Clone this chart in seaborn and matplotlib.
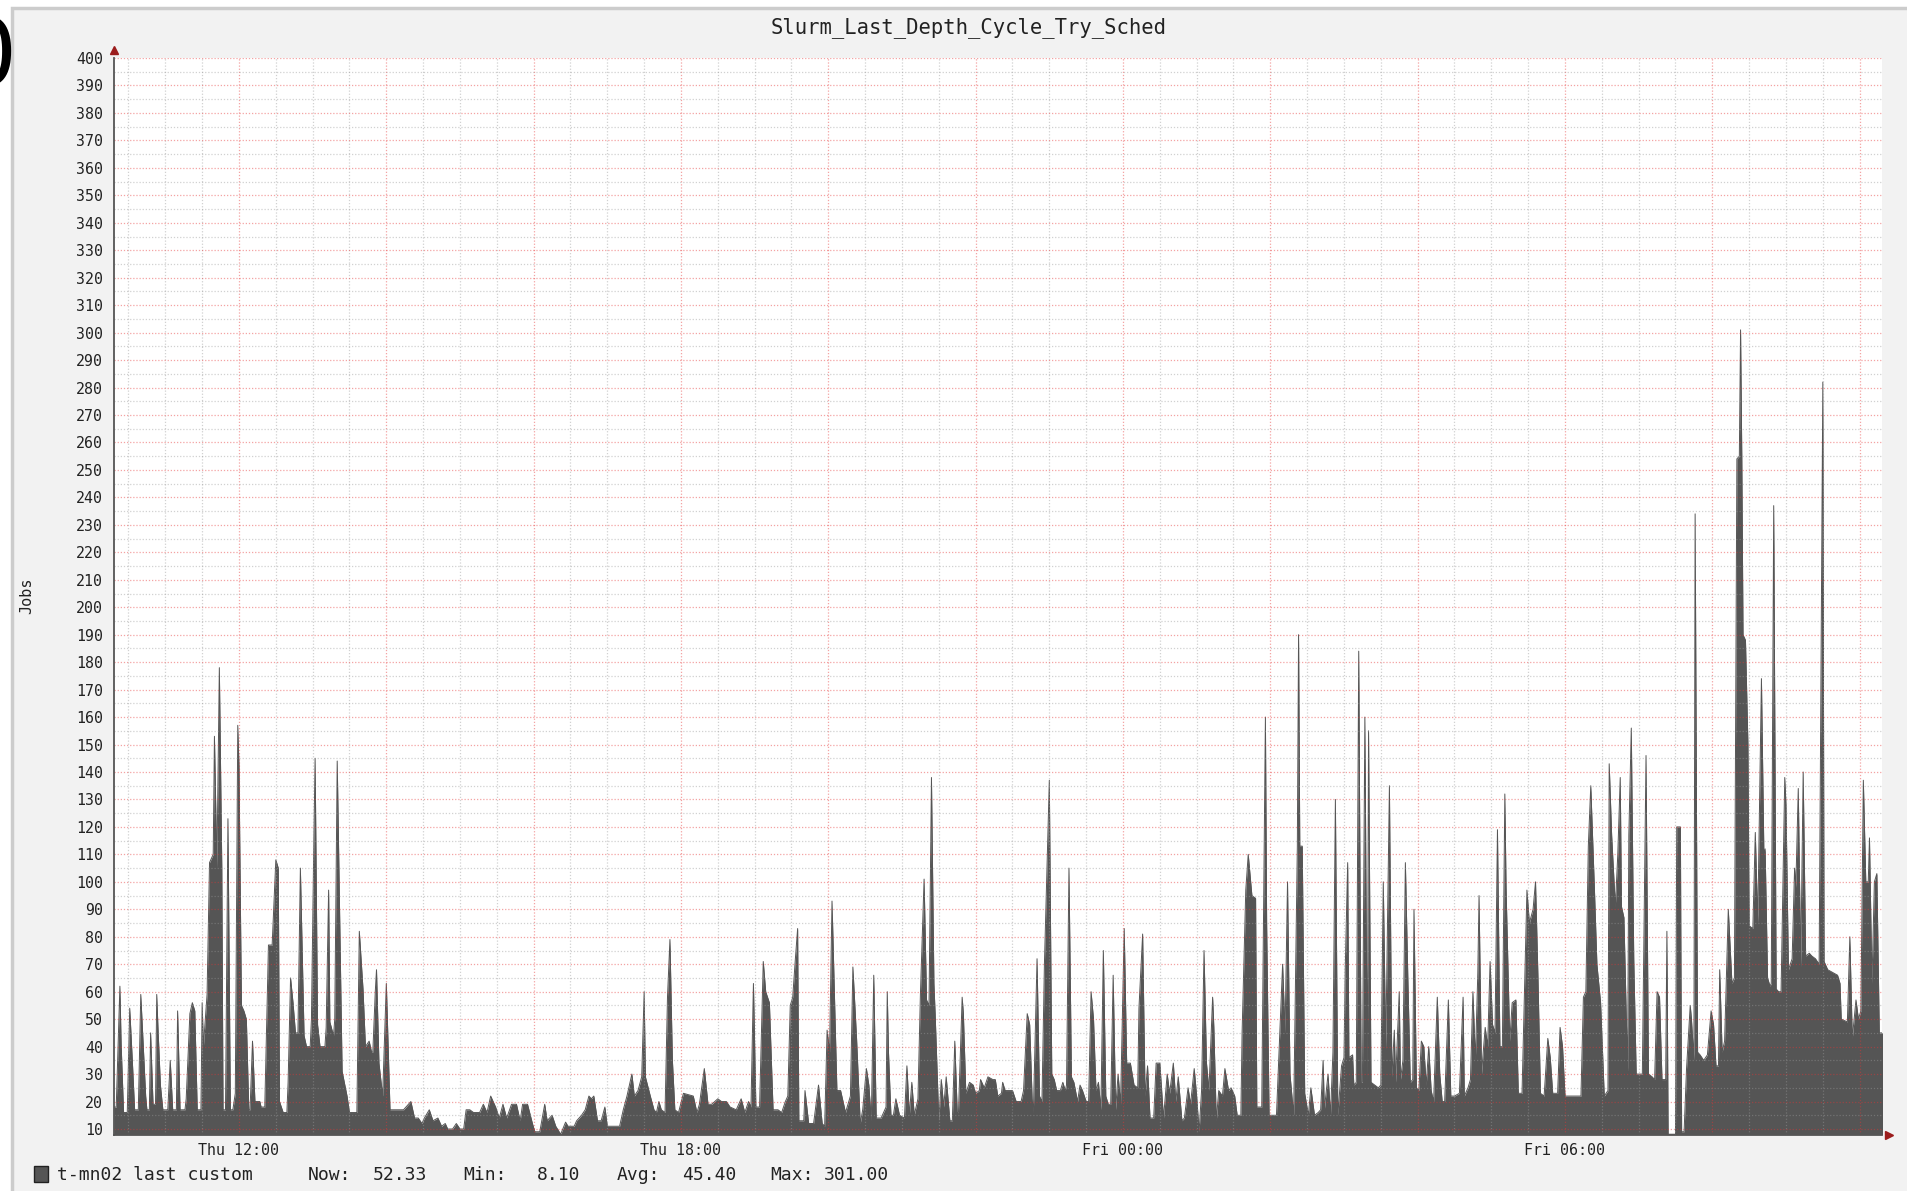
import pandas as pd
import numpy as np
import seaborn as sns
import matplotlib
matplotlib.use('Agg')
import matplotlib.pyplot as plt
import matplotlib.dates as mdates
from matplotlib.ticker import MultipleLocator, FuncFormatter
from matplotlib.patches import Rectangle

# values: minutes since Thu 00:00 -> jobs
thu_midday_min = [618, 620, 623, 624, 626, 629, 631, 633, 635, 638, 640, 644, 645, 647, 648, 650, 652, 653,
                  654, 656, 658, 662, 664, 666, 669, 670, 672, 676, 677, 680, 682, 684, 686, 689, 690, 691,
                  694, 696, 699, 700, 702, 704, 706, 707, 709, 711, 713, 715, 717, 719, 720, 722, 724, 726,
                  728, 729, 731, 733, 737, 738, 741, 744, 747, 750, 752, 753, 756, 759, 760, 762, 764, 766,
                  768, 770, 773, 775, 778, 779, 781, 782, 784, 786, 790, 791, 793, 794, 797, 798, 800, 804,
                  808, 810, 816, 818, 821, 823, 826, 828, 829, 831, 832, 834, 837, 840, 843, 851, 854, 860,
                  863, 866, 869, 871, 875, 878, 882, 885, 888, 890, 894, 897, 900, 903, 905, 908, 911, 916]
thu_midday_jobs = [18, 18, 62, 41, 16, 16, 54, 36, 17, 17, 59, 22, 17, 17, 45, 19, 19, 59,
                   47, 26, 17, 17, 35, 17, 17, 53, 17, 17, 21, 52, 56, 53, 17, 17, 56, 40,
                   59, 107, 110, 153, 105, 178, 105, 17, 17, 123, 17, 17, 23, 157, 142, 55, 53, 50,
                   17, 17, 42, 20, 20, 18, 18, 77, 77, 108, 105, 20, 16, 16, 27, 65, 56, 45,
                   45, 105, 44, 40, 40, 50, 116, 145, 48, 40, 40, 47, 97, 49, 44, 50, 144, 31,
                   22, 16, 16, 82, 61, 40, 42, 38, 38, 60, 68, 34, 22, 63, 17, 17, 17, 20,
                   14, 14, 12, 14, 17, 13, 14, 11, 12, 10, 10, 12, 10, 10, 17, 17, 16, 16]

thu_evening_min = [919, 922, 925, 929, 932, 935, 938, 942, 946, 949, 951, 955, 959, 961, 965, 969, 971, 975,
                   978, 982, 986, 988, 993, 995, 999, 1002, 1005, 1007, 1009, 1012, 1015, 1018, 1020, 1028,
                   1030, 1033, 1036, 1039, 1040, 1042, 1045, 1048, 1050, 1051, 1055, 1058, 1060, 1062, 1064,
                   1067, 1069, 1071, 1073, 1075, 1078, 1082, 1090, 1093, 1095, 1099, 1102, 1105, 1110, 1113,
                   1117, 1120, 1125, 1129, 1132, 1135, 1137, 1139, 1141, 1144, 1147, 1149, 1152, 1155, 1159,
                   1162, 1165, 1167, 1169, 1171, 1173, 1175, 1176, 1180, 1181, 1184, 1188, 1192, 1195, 1197,
                   1199, 1201, 1203, 1207, 1210, 1214, 1218, 1220, 1223, 1226, 1228, 1231, 1233, 1235, 1237,
                   1239, 1243, 1247]
thu_evening_jobs = [19, 16, 22, 18, 14, 19, 14, 19, 19, 13, 19, 19, 12, 9, 9, 19, 13, 15,
                    11, 8.1, 12.5, 11, 11, 13, 15, 17, 22, 21, 22, 13, 13, 18, 11, 11,
                    11, 17, 22, 28, 30, 22, 24, 29, 60, 29, 22, 17, 16, 20, 17,
                    16, 58, 79, 35, 17, 16, 23, 22, 16, 19, 32, 19, 19, 21, 20,
                    20, 18, 17, 21, 16, 20, 18, 63, 18, 18, 71, 60, 56, 17, 17,
                    16, 20, 22, 55, 58, 71, 83, 13, 13, 24, 12, 12, 26, 12, 11,
                    46, 38, 93, 24, 24, 16, 22, 69, 43, 12, 17, 32, 26, 13, 66,
                    14, 14, 18]

thu_night_min = [1248, 1249, 1251, 1253, 1255, 1258, 1262, 1264, 1266, 1268, 1270, 1273, 1275, 1278, 1280,
                 1282, 1284, 1286, 1287, 1290, 1292, 1294, 1296, 1299, 1301, 1303, 1305, 1306, 1309, 1310,
                 1312, 1315, 1318, 1320, 1323, 1324, 1327, 1330, 1334, 1336, 1338, 1341, 1342, 1344, 1348,
                 1350, 1353, 1357, 1359, 1362, 1364, 1366, 1367, 1370, 1372, 1374, 1376, 1380, 1382, 1384,
                 1386, 1389, 1391, 1393, 1394, 1396, 1398, 1400, 1403, 1405, 1407, 1410, 1412, 1414, 1416,
                 1418, 1420, 1422, 1424, 1426, 1428, 1430, 1432, 1434, 1436, 1438, 1441, 1443, 1446, 1449,
                 1452, 1453, 1456, 1458, 1460, 1462, 1465, 1467, 1470, 1473, 1476, 1478, 1481, 1483, 1485,
                 1488, 1490, 1493, 1495, 1498, 1500, 1502, 1504, 1506, 1508, 1510, 1513, 1514, 1516, 1518,
                 1521, 1523, 1526, 1528, 1531, 1533, 1536, 1537, 1540, 1542, 1545, 1548, 1549, 1553, 1556,
                 1557, 1559, 1563, 1565, 1567, 1570, 1572, 1574, 1576, 1579]
thu_night_jobs = [60, 38, 15, 15, 21, 15, 14, 33, 15, 27, 15, 21, 59, 101, 57,
                  55, 138, 63, 52, 13, 28, 18, 29, 13, 13, 42, 16, 16, 58, 52,
                  23, 27, 26, 23, 24, 28, 25, 29, 28, 28, 22, 23, 27, 24, 24,
                  24, 20, 20, 24, 52, 48, 21, 16, 72, 22, 20, 70, 137, 30, 28,
                  24, 24, 27, 24, 26, 105, 29, 27, 20, 26, 24, 20, 20, 60, 50,
                  24, 27, 17, 75, 22, 19, 19, 66, 17, 30, 19, 83, 34, 34, 26,
                  25, 54, 81, 22, 33, 14, 14, 34, 34, 14, 30, 23, 34, 20, 29,
                  13, 14, 25, 19, 32, 22, 9, 24, 75, 34, 24, 58, 47, 13, 24,
                  22, 32, 24, 25, 22, 15, 15, 45, 97, 110, 95, 94, 18, 18, 160,
                  85, 15, 15, 15, 37, 70, 45, 100, 30, 15]

fri_early_min = [1582, 1583, 1584, 1586, 1588, 1591, 1593, 1596, 1599, 1601, 1603, 1604, 1607, 1609, 1611,
                 1613, 1615, 1618, 1620, 1621, 1623, 1624, 1627, 1628, 1630, 1632, 1634, 1635, 1637, 1639,
                 1640, 1642, 1645, 1648, 1650, 1652, 1654, 1657, 1659, 1661, 1662, 1665, 1666, 1668, 1670,
                 1672, 1674, 1676, 1677, 1679, 1681, 1683, 1685, 1687, 1689, 1691, 1693, 1696, 1698, 1700,
                 1702, 1705, 1707, 1710, 1714, 1717, 1718, 1721, 1723, 1725, 1727, 1729, 1730, 1732, 1735,
                 1737, 1739, 1741, 1743, 1745, 1747, 1749, 1751, 1752, 1755, 1757, 1760, 1762, 1765, 1769,
                 1771, 1774, 1776, 1778, 1780, 1783, 1786, 1788, 1790, 1794, 1796, 1798, 1800, 1803, 1813,
                 1815, 1817, 1819, 1821, 1824, 1826, 1829, 1832]
fri_early_jobs = [113, 190, 113, 113, 23, 15, 25, 15, 16, 17, 35, 17, 30, 15, 38,
                  130, 15, 33, 36, 68, 107, 36, 37, 26, 27, 184, 27, 27, 160, 27,
                  155, 27, 26, 25, 26, 100, 39, 135, 29, 46, 27, 60, 28, 35, 107,
                  65, 27, 28, 90, 25, 24, 42, 40, 26, 40, 24, 20, 58, 30, 20,
                  20, 57, 22, 22, 23, 58, 22, 25, 28, 60, 35, 67, 95, 30, 47,
                  40, 71, 48, 45, 119, 40, 40, 132, 98, 42, 56, 57, 23, 23, 97,
                  85, 90, 100, 65, 23, 22, 43, 36, 23, 23, 47, 40, 22, 22, 22,
                  58, 60, 113, 135, 97, 70, 56, 22]

fri_morning_min = [1835, 1836, 1838, 1841, 1843, 1845, 1846, 1848, 1851, 1852, 1854, 1856, 1858, 1860, 1863,
                   1866, 1868, 1871, 1873, 1875, 1877, 1879, 1882, 1883, 1884, 1890, 1891, 1894, 1895, 1897,
                   1899, 1902, 1903, 1905, 1906, 1908, 1910, 1913, 1916, 1919, 1921, 1923, 1925, 1926, 1928,
                   1930, 1933, 1936, 1938, 1940, 1942, 1943, 1944, 1945, 1947, 1949, 1950, 1953, 1955, 1957,
                   1960, 1962, 1963, 1965, 1967, 1968, 1970, 1972, 1974, 1976, 1979, 1980, 1982, 1985, 1987,
                   1988, 1990, 1992, 1994, 1996, 1999, 2001, 2004, 2007, 2010, 2011, 2014, 2018, 2022, 2024,
                   2025, 2030, 2032, 2034, 2037, 2039, 2041, 2043, 2045, 2047, 2048, 2050, 2052, 2054, 2056,
                   2059]
fri_morning_jobs = [24, 143, 117, 91, 110, 138, 91, 87, 31, 117, 156, 72, 30, 30, 30,
                    146, 30, 29, 28, 60, 58, 28, 28, 82, 8.1, 8.1, 120, 120, 9, 9,
                    32, 55, 50, 35, 234, 38, 37, 35, 37, 53, 48, 33, 33, 68, 38,
                    42, 90, 63, 65, 254, 255, 301, 255, 190, 188, 150, 84, 83, 118, 85,
                    174, 110, 112, 65, 62, 63, 237, 61, 60, 60, 138, 128, 68, 72, 105,
                    98, 134, 69, 140, 73, 74, 73, 72, 70, 282, 71, 68, 67, 66, 63,
                    50, 49, 80, 43, 57, 50, 53, 137, 100, 100, 116, 63, 100, 103, 45,
                    45]

legend_item = 't-mn02 last custom'
legend_stats = [('Now:', '52.33'), ('Min:', '8.10'), ('Avg:', '45.40'), ('Max:', '301.00')]

minutes = thu_midday_min + thu_evening_min + thu_night_min + fri_early_min + fri_morning_min
jobs = thu_midday_jobs + thu_evening_jobs + thu_night_jobs + fri_early_jobs + fri_morning_jobs

base = pd.Timestamp('2024-01-04')  # a Thursday
df = pd.DataFrame({'time': base + pd.to_timedelta(minutes, unit='min'), 'jobs': jobs})

sns.set_style('white')
plt.rcParams['font.family'] = ['DejaVu Sans Mono']

W, H = 1908, 1191
fig = plt.figure(figsize=(W / 100, H / 100), dpi=100, facecolor='white')
fig.patches.append(Rectangle((12 / W, -0.01), 1.0, 1 - 8 / H + 0.01, transform=fig.transFigure,
                             fc='#f2f2f2', ec='#cccccc', lw=2.5, zorder=-10))

ax_l, ax_r, ax_t, ax_b = 114, 1882, 58, 1134.5
ax = fig.add_axes([ax_l / W, 1 - ax_b / H, (ax_r - ax_l) / W, (ax_b - ax_t) / H])
ax.set_facecolor('white')

ymin = 8.0
ax.fill_between(df['time'], ymin, df['jobs'], color='#555555', lw=0, zorder=1)
sns.lineplot(data=df, x='time', y='jobs', ax=ax, color='#555555', lw=0.7, zorder=1)

ax.set_xlim(base + pd.Timedelta(minutes=618.2), base + pd.Timedelta(minutes=2058.2))
ax.set_ylim(ymin, 400)

ax.yaxis.set_major_locator(MultipleLocator(10))
ax.yaxis.set_minor_locator(MultipleLocator(5))
ax.xaxis.set_major_locator(mdates.HourLocator(byhour=range(0, 24, 2)))
ax.xaxis.set_minor_locator(mdates.MinuteLocator(byminute=[0, 30]))


def fmt_time(x, pos):
    d = mdates.num2date(x)
    if d.hour % 6 == 0 and d.minute == 0:
        return d.strftime('%a %H:%M')
    return ''


ax.xaxis.set_major_formatter(FuncFormatter(fmt_time))
ax.set_yticks([v for v in range(10, 401, 10)])

ax.set_axisbelow(False)
ax.grid(which='major', color=(0.9, 0.2, 0.2), alpha=0.45, ls=(0, (1, 1.5)), lw=0.9)
ax.grid(which='minor', color=(0.6, 0.6, 0.6), alpha=0.45, ls=(0, (1, 1.5)), lw=0.9)

ax.tick_params(axis='y', which='major', length=3, width=1, color='#666666', pad=5,
               labelsize=10.7, labelcolor='#222222')
ax.tick_params(axis='y', which='minor', length=1.5, width=1, color='#999999')
ax.tick_params(axis='x', which='major', length=3, width=1, color='#d08080', pad=3,
               labelsize=10.8, labelcolor='#222222')
ax.tick_params(axis='x', which='minor', length=2.5, width=1, color='#aaaaaa')

for s in ['top', 'right']:
    ax.spines[s].set_visible(False)
for s in ['left', 'bottom']:
    ax.spines[s].set_color('#555555')
    ax.spines[s].set_linewidth(1.3)
    ax.spines[s].set_zorder(4)

ax.set_xlabel('')
ax.set_ylabel('')

# axis arrows
ax.plot([0], [1.007], marker='^', color='#9b1c1c', markersize=6, transform=ax.transAxes, clip_on=False)
ax.plot([1.004], [0], marker='>', color='#9b1c1c', markersize=6, transform=ax.transAxes, clip_on=False)

fig.text(969 / W, 1 - 27.5 / H, 'Slurm_Last_Depth_Cycle_Try_Sched', ha='center', va='center',
         fontsize=14.8, color='#222222')
fig.text(27 / W, 1 - 596 / H, 'Jobs', rotation=90, ha='center', va='center', fontsize=11, color='#222222')

# legend row
fig.patches.append(Rectangle((34 / W, 1 - 1182 / H), 14 / W, 16 / H, transform=fig.transFigure,
                             fc='#555555', ec='#222222', lw=1))
fig.text(57 / W, 1 - 1175 / H, legend_item, ha='left', va='center', fontsize=13, color='#222222')
label_x = [308, 463, 617, 770]
value_x = [373, 537, 682, 824]
for (lab, val), lx, vx in zip(legend_stats, label_x, value_x):
    fig.text(lx / W, 1 - 1175 / H, lab, ha='left', va='center', fontsize=13, color='#222222')
    fig.text(vx / W, 1 - 1175 / H, val, ha='left', va='center', fontsize=13, color='#222222')

# clipped glyph at the top-left edge of the screenshot
fig.text(-12 / W, 1 - 59 / H, '0', ha='center', va='center', fontsize=66, color='black',
         family='DejaVu Sans')

fig.savefig('out.png', dpi=100, facecolor=fig.get_facecolor())
